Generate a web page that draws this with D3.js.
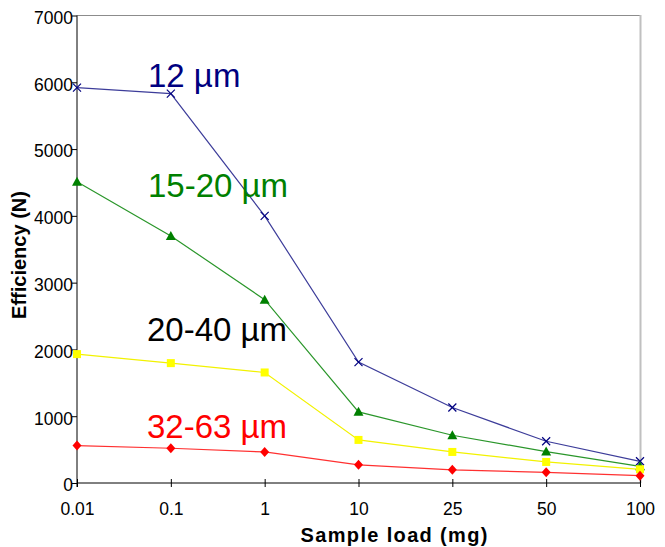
<!DOCTYPE html>
<html>
<head>
<meta charset="utf-8">
<script src="https://cdn.jsdelivr.net/npm/d3@7"></script>
<style>
  html, body { margin: 0; padding: 0; background: #fff; }
  svg { display: block; font-family: "Liberation Sans", Arial, sans-serif; }
</style>
</head>
<body>
<svg id="chart" width="665" height="547"></svg>
<script>
const categories = ["0.01", "0.1", "1", "10", "25", "50", "100"];
const yTicks = [0, 1000, 2000, 3000, 4000, 5000, 6000, 7000];
const s12 = [5920, 5830, 4000, 1810, 1130, 625, 325];
const s1520 = [4510, 3700, 2745, 1065, 715, 470, 250];
const s2040 = [1930, 1795, 1655, 645, 465, 315, 205];
const s3263 = [560, 520, 465, 272, 198, 160, 110];
const seriesNames = ["12 µm", "15-20 µm", "20-40 µm", "32-63 µm"];

const series = [
  { name: seriesNames[0], values: s12, line: "#3d3d9a", mark: "#000080", text: "#000080", shape: "x", lx: 148, ly: 87 },
  { name: seriesNames[1], values: s1520, line: "#2a962a", mark: "#008000", text: "#008000", shape: "tri", lx: 148, ly: 197 },
  { name: seriesNames[2], values: s2040, line: "#f2f200", mark: "#ffff00", text: "#000000", shape: "sq", lx: 147, ly: 341 },
  { name: seriesNames[3], values: s3263, line: "#ff3030", mark: "#ff0000", text: "#ff0000", shape: "dia", lx: 147, ly: 438 }
];

const svg = d3.select("#chart");
const L = 77, R = 640, T = 15.5, B = 483;
const x = d3.scalePoint().domain(categories).range([L, R]).padding(0);
const y = d3.scaleLinear().domain([0, 7000]).range([B, T]);

// frame top / right
svg.append("line").attr("x1", L).attr("x2", R).attr("y1", T).attr("y2", T)
  .attr("stroke", "#8c8c8c").attr("stroke-width", 1);
svg.append("line").attr("x1", R + 0.5).attr("x2", R + 0.5).attr("y1", T - 0.5).attr("y2", B)
  .attr("stroke", "#c0c0c0").attr("stroke-width", 2);

// y axis
const yAxis = d3.axisLeft(y).tickValues(yTicks).tickSize(5).tickPadding(0).tickFormat(d3.format("d"));
const gy = svg.append("g").attr("transform", `translate(${L},0)`).call(yAxis);
gy.select(".domain").attr("stroke", "#000").attr("d", `M0,${T}V${B + 4}`);
gy.selectAll(".tick line").attr("stroke", "#000");
gy.selectAll(".tick text").attr("font-size", 17.5).attr("fill", "#000")
  .attr("font-family", "Liberation Sans, Arial, sans-serif").attr("dy", "0.45em").attr("x", -4);

// x axis
const xAxis = d3.axisBottom(x).tickSize(0).tickPadding(0);
const gx = svg.append("g").attr("transform", `translate(0,${B})`).call(xAxis);
gx.select(".domain").attr("stroke", "#000").attr("d", `M${L},0H${R}`);
gx.selectAll(".tick line").attr("y1", -4).attr("y2", 4).attr("stroke", "#000");
gx.selectAll(".tick text").attr("font-size", 17.5).attr("fill", "#000")
  .attr("font-family", "Liberation Sans, Arial, sans-serif").attr("y", 32).attr("dy", 0);

// axis titles
svg.append("text").attr("x", 394).attr("y", 542).attr("text-anchor", "middle")
  .attr("font-size", 20).attr("font-weight", "bold").attr("textLength", 187)
  .text("Sample load (mg)");
svg.append("text").attr("transform", "translate(26,255) rotate(-90)").attr("text-anchor", "middle")
  .attr("font-size", 20).attr("font-weight", "bold")
  .text("Efficiency (N)");

const line = d3.line().x((d, i) => x(categories[i])).y(d => y(d));

series.forEach(s => {
  svg.append("path").datum(s.values).attr("d", line)
    .attr("fill", "none").attr("stroke", s.line).attr("stroke-width", 1.2);
  const g = svg.append("g");
  s.values.forEach((v, i) => {
    const cx = x(categories[i]), cy = y(v);
    if (s.shape === "x") {
      g.append("path").attr("d", `M${cx - 4},${cy - 4}L${cx + 4},${cy + 4}M${cx - 4},${cy + 4}L${cx + 4},${cy - 4}`)
        .attr("stroke", s.mark).attr("stroke-width", 1.2).attr("fill", "none");
    } else if (s.shape === "tri") {
      g.append("path").attr("d", `M${cx},${cy - 5}L${cx + 5},${cy + 4}L${cx - 5},${cy + 4}Z`).attr("fill", s.mark);
    } else if (s.shape === "sq") {
      g.append("rect").attr("x", cx - 4).attr("y", cy - 4).attr("width", 8).attr("height", 8).attr("fill", s.mark);
    } else {
      g.append("path").attr("d", `M${cx},${cy - 5}L${cx + 4.5},${cy}L${cx},${cy + 5}L${cx - 4.5},${cy}Z`).attr("fill", s.mark);
    }
  });
  svg.append("text").attr("x", s.lx).attr("y", s.ly).attr("font-size", 33)
    .attr("fill", s.text).text(s.name);
});
</script>
</body>
</html>
